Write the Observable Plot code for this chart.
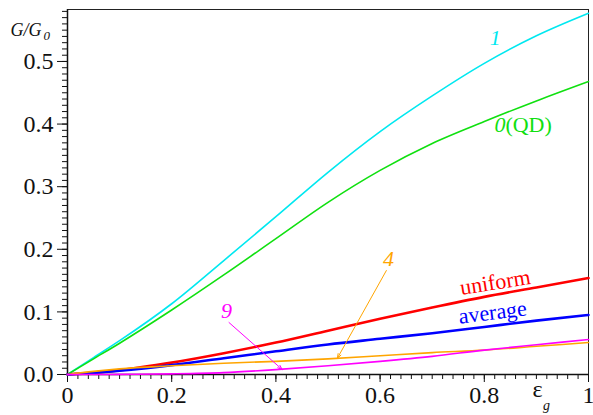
<!DOCTYPE html>
<html><head><meta charset="utf-8">
<script src="https://cdn.jsdelivr.net/npm/d3@7"></script>
<script src="https://cdn.jsdelivr.net/npm/@observablehq/plot@0.6"></script>
<style>body{margin:0;background:#fff}</style>
</head><body><div id="chart"></div>
<script>
const eps      = [0, 0.05, 0.1, 0.2, 0.3, 0.4, 0.5, 0.6, 0.7, 0.8, 0.9, 1.0];
const g1       = [0, 0.027, 0.054, 0.113, 0.182, 0.252, 0.323, 0.388, 0.445, 0.497, 0.541, 0.577];
const g0       = [0, 0.025, 0.05, 0.103, 0.159, 0.217, 0.275, 0.326, 0.369, 0.404, 0.437, 0.468];
const gUniform = [0, 0.003, 0.007, 0.019, 0.034, 0.051, 0.070, 0.089, 0.107, 0.124, 0.139, 0.154];
const gAverage = [0, 0.0025, 0.006, 0.015, 0.026, 0.037, 0.048, 0.057, 0.066, 0.076, 0.086, 0.095];
const g4       = [0, 0.005, 0.009, 0.014, 0.018, 0.021, 0.025, 0.030, 0.035, 0.039, 0.045, 0.051];
const g9       = [0, 0.0, 0.0002, 0.001, 0.003, 0.0078, 0.014, 0.021, 0.029, 0.039, 0.0475, 0.056];
const xTicks = [0, 0.2, 0.4, 0.6, 0.8, 1];
const yTicks = [0, 0.1, 0.2, 0.3, 0.4, 0.5];

const series = [
  {name:"1", vals:g1, color:"#00e8f0", w:1.6},
  {name:"0", vals:g0, color:"#10e010", w:1.6},
  {name:"uniform", vals:gUniform, color:"#ff0000", w:2.6},
  {name:"average", vals:gAverage, color:"#0000ff", w:2.6},
  {name:"4", vals:g4, color:"#ffa500", w:1.6},
  {name:"9", vals:g9, color:"#ff00ff", w:1.6}
];
const rows = series.flatMap(s => eps.map((e,i)=>({x:e, y:s.vals[i], name:s.name})));

const labels = [
  {t:"1", x:0.821, y:0.537, c:"#00e8f0", it:true, a:"middle", r:0},
  {t:"0", x:0.8405, y:0.398, c:"#10e010", it:true, a:"end", r:0},
  {t:"(QD)", x:0.8405, y:0.398, c:"#10e010", it:false, a:"start", r:0},
  {t:"4", x:0.616, y:0.185, c:"#ffa500", it:true, a:"middle", r:0},
  {t:"9", x:0.305, y:0.102, c:"#ff00ff", it:true, a:"middle", r:0},
  {t:"uniform", x:0.821, y:0.147, c:"#ff0000", it:false, a:"middle", r:-9},
  {t:"average", x:0.816, y:0.099, c:"#0000ff", it:false, a:"middle", r:-7}
];
const arrows = [
  {x1:0.612, y1:0.166, x2:0.518, y2:0.026, c:"#ffa500"},
  {x1:0.31, y1:0.083, x2:0.412, y2:0.008, c:"#ff00ff"}
];

const serif = "Liberation Serif";
const fmtX = d => (d===0||d===1) ? String(d) : d.toFixed(1);
const chart = Plot.plot({
  width:593, height:415,
  marginLeft:67, marginRight:5, marginTop:9, marginBottom:41,
  style:{fontFamily:serif, color:"#111"},
  x:{domain:[0,1]},
  y:{domain:[0,0.583]},
  marks:[
    Plot.frame({stroke:"#222", strokeWidth:1}),
    Plot.axisY(d3.range(0,0.581,0.01), {tickSize:5, text:null}),
    Plot.axisY(yTicks, {tickSize:10, tickPadding:4, tickFormat:d=>d.toFixed(1), fontSize:24, label:null}),
    Plot.axisX(d3.range(0,1.001,0.02), {tickSize:5, text:null}),
    Plot.axisX(xTicks, {tickSize:8, tickPadding:3, tickFormat:fmtX, fontSize:24, label:null}),
    Plot.ruleX([0], {stroke:"#111", strokeWidth:1.5}),
    Plot.ruleY([0], {stroke:"#111", strokeWidth:1.5}),
    ...series.map(s => Plot.line(rows.filter(r=>r.name===s.name), {x:"x", y:"y", stroke:s.color, strokeWidth:s.w, curve:"monotone-x"})),
    Plot.arrow(arrows, {x1:"x1", y1:"y1", x2:"x2", y2:"y2", stroke:"c", strokeWidth:1, headLength:7, headAngle:40}),
    ...labels.map(l => Plot.text([l], {x:"x", y:"y", text:"t", fill:l.c, fontSize:22, fontStyle:l.it?"italic":"normal", textAnchor:l.a, rotate:l.r})),
    Plot.text(["G/G"], {frameAnchor:"top-left", dx:-57, dy:14, textAnchor:"start", fontSize:18, fontStyle:"italic", fill:"#111"}),
    Plot.text(["0"], {frameAnchor:"top-left", dx:-24, dy:21, textAnchor:"start", fontSize:13, fontStyle:"italic", fill:"#111"}),
    Plot.text(["ε"], {frameAnchor:"bottom-left", dx:470, dy:22, textAnchor:"middle", fontSize:24, fill:"#111"}),
    Plot.text(["g"], {frameAnchor:"bottom-left", dx:479, dy:35, textAnchor:"middle", fontSize:14, fontStyle:"italic", fill:"#111"})
  ]
});
document.getElementById("chart").append(chart);
</script></body></html>
